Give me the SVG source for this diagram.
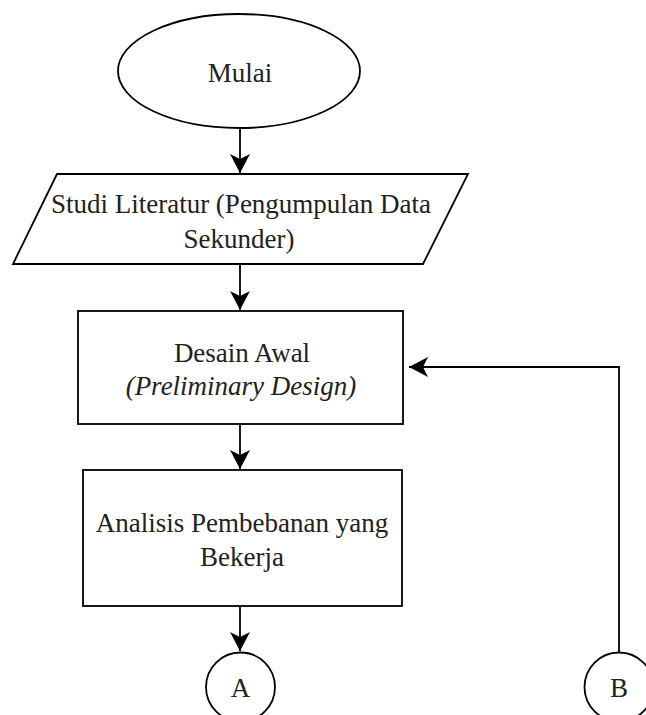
<svg xmlns="http://www.w3.org/2000/svg" width="646" height="715" viewBox="0 0 646 715">
<style>
.shape{fill:#fff;stroke:#000;stroke-width:1.8}
.conn{fill:none;stroke:#000;stroke-width:1.8}
text{font-family:"Liberation Serif","Times New Roman",serif;font-size:27px;fill:#222;text-anchor:middle}
.it{font-style:italic}
</style>
<defs>
<marker id="arr" markerUnits="userSpaceOnUse" markerWidth="24" markerHeight="24" viewBox="-20 -12 24 24" refX="0" refY="0" orient="auto">
<path d="M0,0 L-19,-10 L-14,0 L-19,10 Z" fill="#000"/>
</marker>
</defs>
<rect width="646" height="715" fill="#fff"/>
<g id="mulai">
<ellipse class="shape" cx="239" cy="71" rx="121" ry="57"/>
<text x="240" y="82">Mulai</text>
</g>
<g id="studi">
<polygon class="shape" points="57,174 468,174 423,264 13,264"/>
<text x="241" y="213">Studi Literatur (Pengumpulan Data</text>
<text x="239" y="248">Sekunder)</text>
</g>
<g id="desain">
<rect class="shape" x="78" y="311" width="325" height="113"/>
<text x="242" y="362">Desain Awal</text>
<text x="241" y="395" class="it">(Preliminary Design)</text>
</g>
<g id="analisis">
<rect class="shape" x="83" y="470" width="319" height="136"/>
<text x="242" y="532">Analisis Pembebanan yang</text>
<text x="242" y="566">Bekerja</text>
</g>
<g id="conA">
<circle class="shape" cx="240.5" cy="687" r="34.5"/>
<text x="240.5" y="697">A</text>
</g>
<g id="conB">
<circle class="shape" cx="619" cy="687" r="34.5"/>
<text x="619" y="697">B</text>
</g>
<g id="connectors">
<path class="conn" d="M240,128 V173" marker-end="url(#arr)"/>
<path class="conn" d="M240,264 V310" marker-end="url(#arr)"/>
<path class="conn" d="M240,424 V469" marker-end="url(#arr)"/>
<path class="conn" d="M240,606 V651" marker-end="url(#arr)"/>
<path class="conn" d="M619,652 V367 H409" marker-end="url(#arr)"/>
</g>
</svg>
